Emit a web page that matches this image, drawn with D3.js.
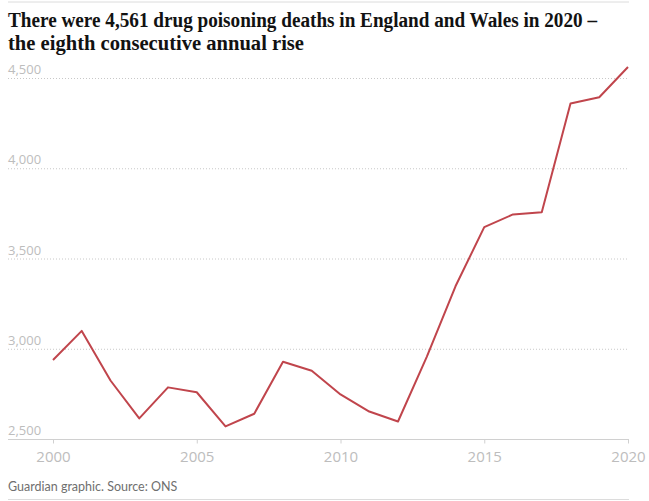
<!DOCTYPE html>
<html>
<head>
<meta charset="utf-8">
<script src="https://cdn.jsdelivr.net/npm/d3@7"></script>
<style>
  body { margin: 0; background: #fff; }
  svg { display: block; }
</style>
</head>
<body>
<svg id="chart" width="649" height="501"></svg>
<script>
// ONS drug poisoning deaths, England and Wales
var years = [2000, 2001, 2002, 2003, 2004, 2005, 2006, 2007, 2008, 2009, 2010,
             2011, 2012, 2013, 2014, 2015, 2016, 2017, 2018, 2019, 2020];
var deaths = [2938, 3099, 2824, 2614, 2786, 2759, 2570, 2640, 2928, 2878, 2747,
              2652, 2597, 2955, 3346, 3674, 3744, 3756, 4359, 4393, 4561];
var yTicks = [2500, 3000, 3500, 4000, 4500];
var xTicks = [2000, 2005, 2010, 2015, 2020];
var titleLines = ["There were 4,561 drug poisoning deaths in England and Wales in 2020 \u2013",
                  "the eighth consecutive annual rise"];
var source = "Guardian graphic. Source: ONS";

var data = years.map(function (y, i) { return { year: y, value: deaths[i] }; });

var svg = d3.select("#chart");
var left = 8, right = 629;

// top rule
svg.append("line")
    .attr("x1", left).attr("x2", right)
    .attr("y1", 2).attr("y2", 2)
    .style("stroke", "#dcdcdc").style("stroke-width", 1);

// title
var titleWidths = [589, 296];
svg.selectAll("text.title")
    .data(titleLines)
    .enter().append("text")
    .attr("class", "title")
    .attr("x", left)
    .attr("y", function (d, i) { return 27 + i * 23; })
    .attr("textLength", function (d, i) { return titleWidths[i]; })
    .attr("lengthAdjust", "spacingAndGlyphs")
    .style("font-family", "'Liberation Serif', 'DejaVu Serif', serif")
    .style("font-weight", "bold")
    .style("font-size", "20px")
    .style("fill", "#121212")
    .text(function (d) { return d; });

var xScale = d3.scaleLinear()
    .domain([2000, 2020])
    .range([53, 628]);

var yScale = d3.scaleLinear()
    .domain([2500, 4500])
    .range([439, 78]);

// gridlines (dotted) and y labels
svg.selectAll("line.grid")
    .data(yTicks.filter(function (d) { return d > 2500; }))
    .enter().append("line")
    .attr("class", "grid")
    .attr("x1", left).attr("x2", right)
    .attr("y1", function (d) { return yScale(d) + 0.5; })
    .attr("y2", function (d) { return yScale(d) + 0.5; })
    .style("stroke", "#c8c8c8")
    .style("stroke-width", 1)
    .style("stroke-dasharray", "1,2");

svg.selectAll("text.ylab")
    .data(yTicks)
    .enter().append("text")
    .attr("class", "ylab")
    .attr("x", left)
    .attr("y", function (d) { return yScale(d) - 4; })
    .style("font-family", "'Open Sans', sans-serif")
    .style("font-size", "13px")
    .style("fill", "#bdbdbd")
    .text(function (d) { return d3.format(",")(d); });

// x axis
var xAxis = d3.axisBottom(xScale)
    .tickValues(xTicks)
    .tickFormat(d3.format("d"))
    .tickSize(4)
    .tickPadding(8);

var gx = svg.append("g")
    .attr("class", "x axis")
    .attr("transform", "translate(0," + (yScale(2500) + 0.5) + ")")
    .call(xAxis);

gx.select(".domain").remove();
gx.insert("line", ":first-child")
    .attr("x1", left).attr("x2", right)
    .attr("y1", 0).attr("y2", 0)
    .style("stroke", "#d0d0d0");
gx.selectAll(".tick line").style("stroke", "#d0d0d0");
gx.selectAll(".tick text")
    .style("font-family", "'Open Sans', sans-serif")
    .style("font-size", "15px")
    .style("fill", "#bdbdbd");

// the line
var line = d3.line()
    .x(function (d) { return xScale(d.year); })
    .y(function (d) { return yScale(d.value); });

svg.append("path")
    .datum(data)
    .attr("d", line)
    .style("fill", "none")
    .style("stroke", "#c0454c")
    .style("stroke-width", 2)
    .style("stroke-linejoin", "round");

// footer
svg.append("text")
    .attr("x", left)
    .attr("y", 491)
    .style("font-family", "Lato, sans-serif")
    .style("font-size", "12.5px")
    .style("fill", "#6f6f6f")
    .text(source);

svg.append("line")
    .attr("x1", left).attr("x2", right)
    .attr("y1", 499.5).attr("y2", 499.5)
    .style("stroke", "#dcdcdc");
</script>
</body>
</html>
